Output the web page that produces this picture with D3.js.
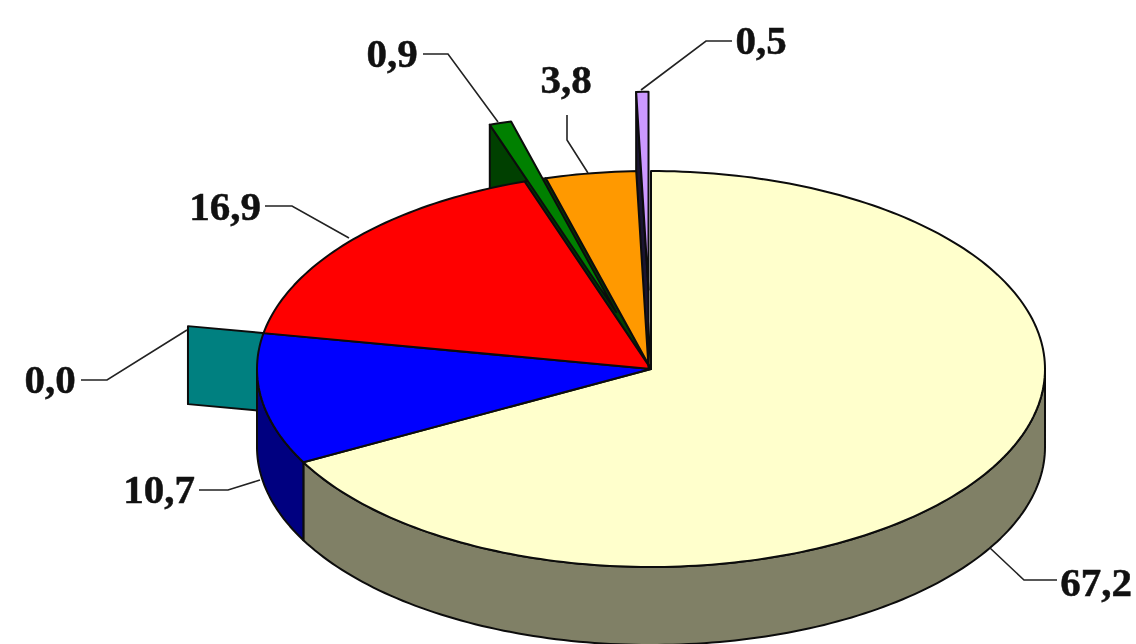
<!DOCTYPE html>
<html>
<head>
<meta charset="utf-8">
<script src="https://cdn.jsdelivr.net/npm/d3@7"></script>
<style>
  html, body { margin: 0; padding: 0; background: #fff; }
  svg { display: block; filter: blur(0.6px); }
  text { font-family: "Liberation Serif", serif; font-weight: bold; font-size: 41px; fill: #111; stroke: #111; stroke-width: 0.5px; }
</style>
</head>
<body>
<div id="chart"></div>
<script>
// Values, clockwise from 12 o'clock
const values = [67.2, 10.7, 0.0, 16.9, 0.9, 3.8, 0.5];

const width = 1136, height = 644;

// Look of each slice, same order as the values
const topColors  = ['#ffffcc', '#0000ff', '#00ffff', '#ff0000', '#008000', '#ff9900', '#cc99ff'];
const sideColors = ['#808066', '#000080', '#008080', '#800000', '#004000', '#804c00', '#1a1430'];
const explode    = [0, 0, 0.195, 0, 0.3, 0, 0.4];

// Label centre + baseline, then the leader line running towards the slice
const labelPos = [[1096, 596], [159, 503], [50, 393], [225, 220], [392, 67], [566, 93], [761, 54]];
const leaders = [
    [[1057, 580], [1024, 580], [990, 548]],
    [[199, 490], [228, 490], [260, 480]],
    [[81, 380], [107, 380], [187, 330]],
    [[265, 206], [292, 206], [349, 238]],
    [[423, 54], [448, 54], [498, 122]],
    [[567, 115], [567, 140], [588, 173]],
    [[732, 41], [706, 41], [641, 90]]
];

const svg = d3.select('#chart').append('svg')
    .attr('width', width)
    .attr('height', height);

// Tilted disc: unit coordinates to pixels
const x = d3.scaleLinear().domain([-1, 1]).range([257, 1045]);
const y = d3.scaleLinear().domain([-1, 1]).range([567, 171]);
const depth = 78;

const slices = d3.pie().sort(null).startAngle(0).endAngle(2 * Math.PI)
    .value(d => d)(values)
    .map((d, i) => {
        const mid = (d.startAngle + d.endAngle) / 2;
        return {
            ...d,
            i,
            ox: explode[i] * Math.sin(mid),
            oy: explode[i] * Math.cos(mid)
        };
    });

const point = (s, a, r, drop = 0) => [
    x(r * Math.sin(a) + s.ox),
    y(r * Math.cos(a) + s.oy) + drop
];

const rimAngles = (a0, a1) => {
    const n = Math.max(2, Math.ceil((a1 - a0) / 0.02));
    return d3.range(n + 1).map(k => a0 + (a1 - a0) * k / n);
};

const line = d3.line();
const closed = pts => line(pts) + 'Z';

const topPath = s => closed([
    point(s, s.startAngle, 0),
    ...rimAngles(s.startAngle, s.endAngle).map(a => point(s, a, 1))
]);

// Flat wall along the leading edge of an exploded slice
const edgeWall = s => closed([
    point(s, s.startAngle, 1),
    point(s, s.startAngle, 0),
    point(s, s.startAngle, 0, depth),
    point(s, s.startAngle, 1, depth)
]);

// Outer curved wall between two angles
const rimWall = (s, a0, a1) => {
    const arc = rimAngles(a0, a1);
    return closed([
        ...arc.map(a => point(s, a, 1)),
        ...arc.slice().reverse().map(a => point(s, a, 1, depth))
    ]);
};

const ink = '#0c0c0c';
const draw = (d, fill) => svg.append('path')
    .attr('d', d)
    .attr('fill', fill)
    .attr('stroke', ink)
    .attr('stroke-width', 2)
    .attr('stroke-linejoin', 'round');

const [pale, blue, teal, red, green, orange, purple] = slices;
const quarter = Math.PI / 2;

// Painted back to front
draw(edgeWall(teal), sideColors[2]);
draw(edgeWall(green), sideColors[4]);
draw(rimWall(pale, quarter, pale.endAngle), sideColors[0]);
draw(rimWall(blue, blue.startAngle, 3 * quarter), sideColors[1]);

// Slot left behind by the pulled-out green slice
draw(topPath({ ...green, ox: 0, oy: 0 }), sideColors[4]);

[pale, blue, red, orange, green].forEach(s => draw(topPath(s), topColors[s.i]));

draw(edgeWall(purple), sideColors[6]);
draw(topPath(purple), topColors[6]);

// Leader lines and labels
svg.append('g').selectAll('path')
    .data(leaders)
    .join('path')
        .attr('d', d => line(d))
        .attr('fill', 'none')
        .attr('stroke', '#222')
        .attr('stroke-width', 1.6);

svg.append('g').selectAll('text')
    .data(values)
    .join('text')
        .attr('x', (d, i) => labelPos[i][0])
        .attr('y', (d, i) => labelPos[i][1])
        .attr('text-anchor', 'middle')
        .text(d => d.toFixed(1).replace('.', ','));
</script>
</body>
</html>
